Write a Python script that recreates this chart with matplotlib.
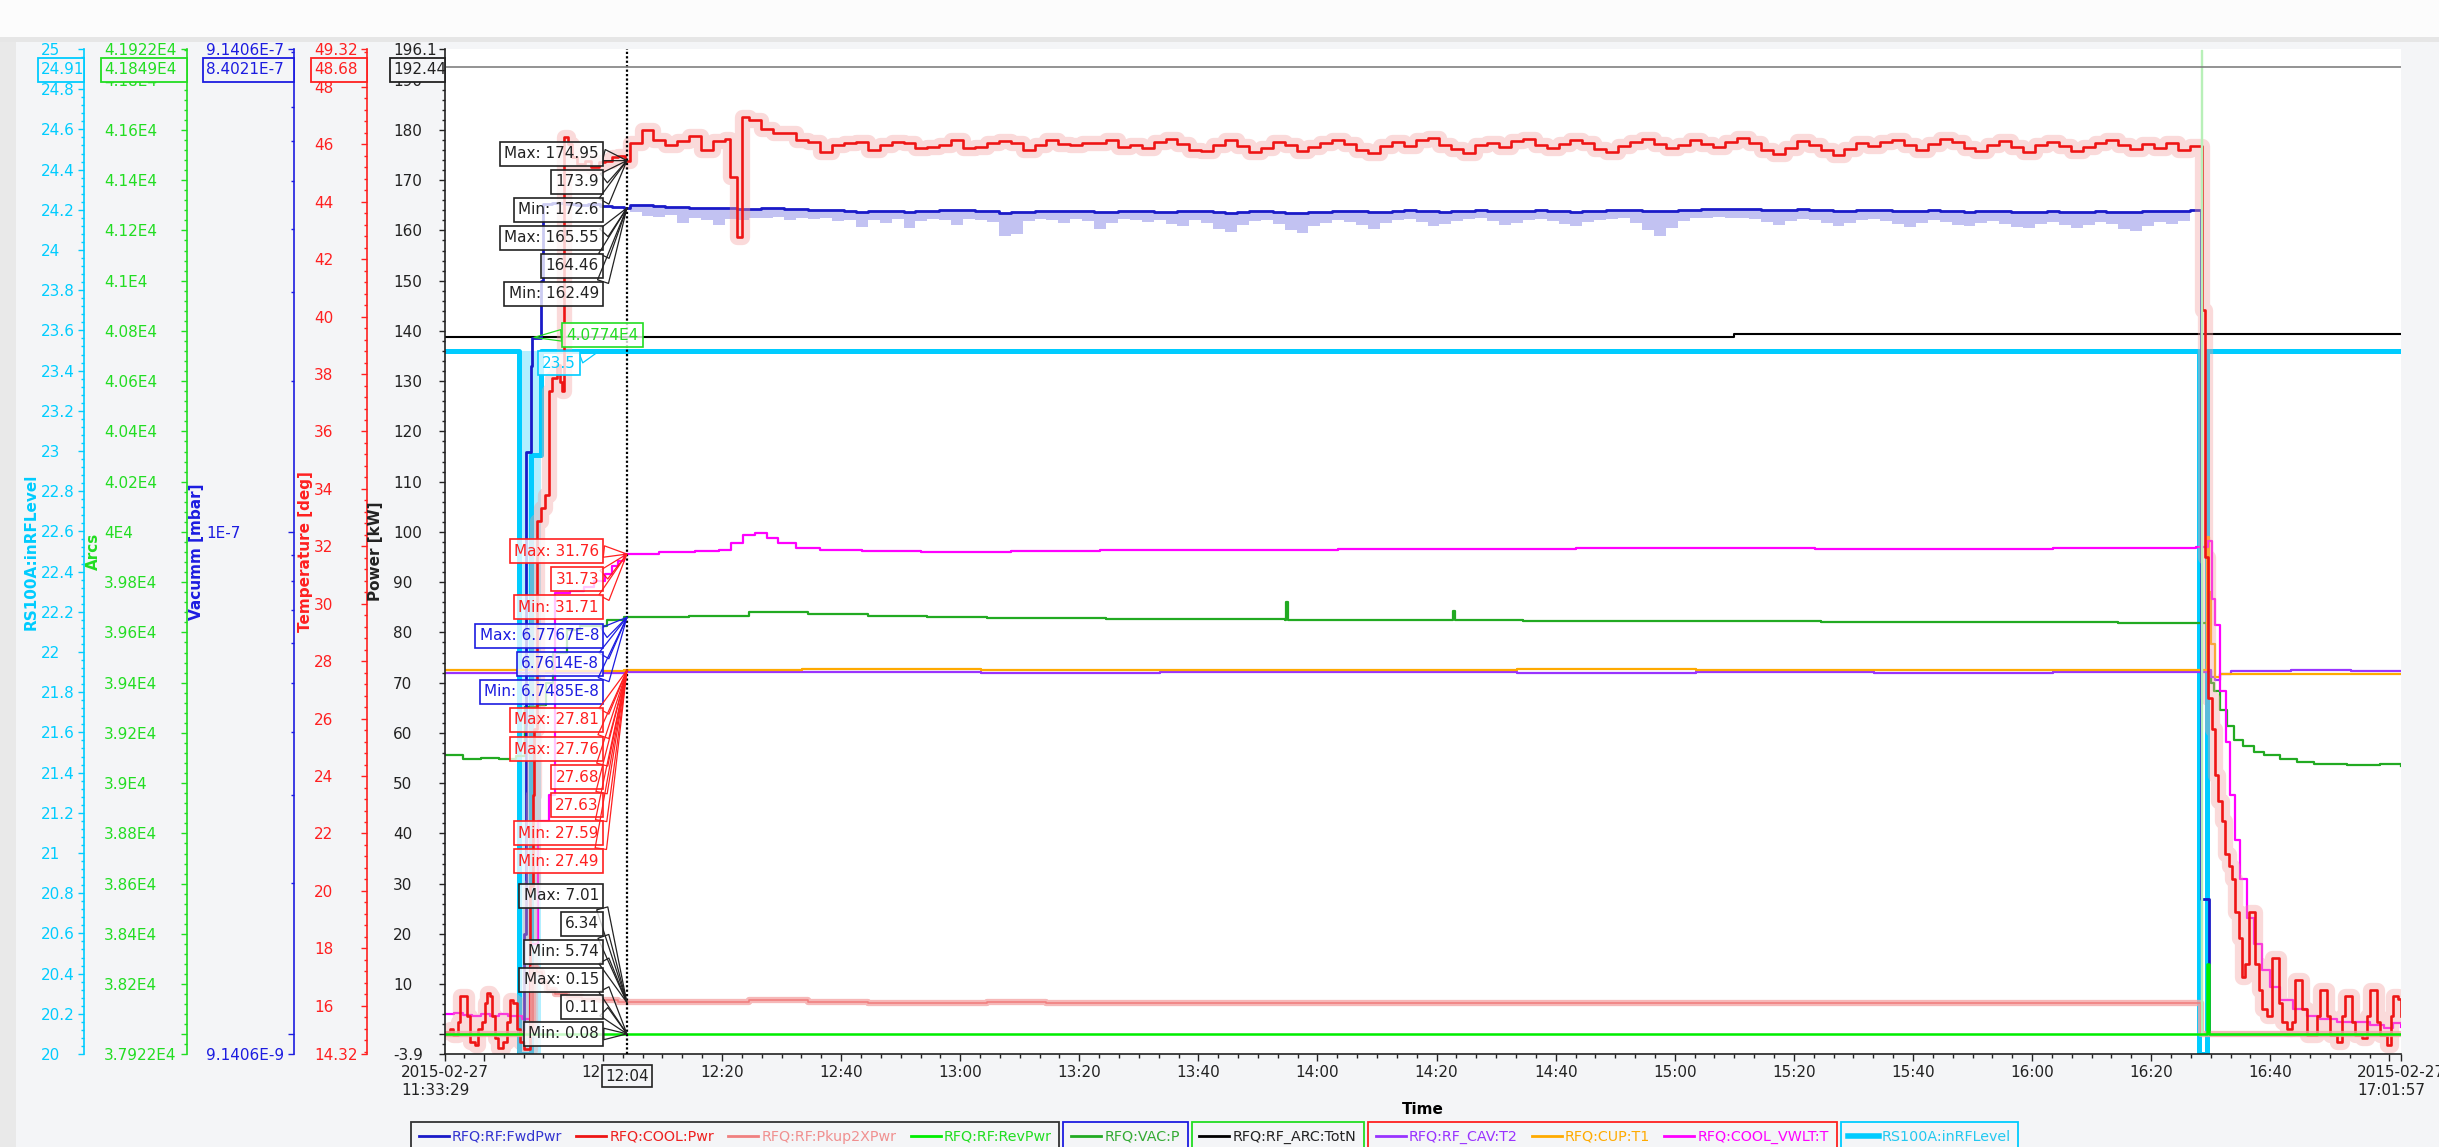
import numpy as np
import matplotlib
matplotlib.use("Agg")
import matplotlib.pyplot as plt
import matplotlib.dates as mdates
from matplotlib.ticker import FixedLocator, FixedFormatter
from matplotlib.lines import Line2D
from matplotlib.patches import Rectangle
from datetime import datetime, timedelta

# ---------------- data: time in minutes after 2015-02-27 11:33:29 ----------------
T_START = datetime(2015, 2, 27, 11, 33, 29)
T_END = datetime(2015, 2, 27, 17, 1, 57)
t_end = 328.467
t_cursor = 30.55

steady_t0, steady_dt = 31.0, 2.0      # sampling of the dense power records
slow_t0, slow_dt = 31.0, 10.0         # sampling of the slow records

# RFQ:COOL:Pwr [kW]
cool_pre = [(0, 0.5), (0.84, 1.1), (1.4, -0.2), (2.24, 2.4), (2.5, 7.6), (3.36, 7.6), (3.64, 3.7),
            (4.2, -1.5), (5.04, -2.1), (5.6, 1.1), (6.16, 2.4), (6.72, 6.3), (7.0, 8.2), (7.56, 7.6),
            (7.84, 3.7), (8.4, -0.8), (8.96, -2.8), (9.8, -1.5), (10.36, 2.4), (10.92, 6.9),
            (11.48, 6.3), (12.04, 1.1), (12.6, -1.5), (13.2, -3.0), (14.3, 29.6), (14.7, 47.7),
            (15.0, 60.7), (15.4, 102.1), (16.2, 104.7), (16.8, 107.3), (17.4, 128.0), (17.9, 130.6),
            (18.8, 133.2), (19.3, 129.9), (19.7, 128.0), (20.0, 178.5), (20.6, 177.2), (21.3, 174.6),
            (22.1, 173.3), (23.5, 173.9), (24.6, 172.7), (25.8, 173.6), (26.9, 173.9), (28.0, 174.6),
            (29.1, 174.9), (30.2, 173.9)]
cool_steady = [177.3, 180.0, 178.0, 177.0, 177.8, 178.8, 176.0, 177.8, 178.1, 170.7,
               182.0, 180.2, 179.4, 179.3, 178.0, 177.5, 175.7, 177.0, 177.3, 177.6,
               176.0, 177.0, 177.6, 177.3, 176.4, 176.5, 177.0, 178.0, 176.3, 176.6,
               177.3, 177.8, 177.3, 176.1, 177.0, 178.0, 177.2, 177.0, 177.3, 177.4,
               178.0, 176.5,
               177.0, 176.3, 177.5, 178.2, 177.1, 176.0, 175.8, 177.0, 177.9, 176.8,
               175.6, 176.4, 177.6, 176.9, 175.9, 176.5, 177.3, 178.0, 177.1, 176.0,
               175.4, 176.7, 177.5, 176.8, 177.9, 178.3, 177.0, 176.2, 175.5, 176.9,
               177.4, 176.6, 177.8, 178.1, 177.0, 176.4, 177.2, 178.0, 177.3, 176.2,
               175.6, 176.8, 177.6, 178.2, 177.1, 176.3, 177.0, 177.9, 177.2, 176.5,
               177.5, 178.4, 177.3, 176.1, 175.2, 176.4, 177.7, 177.0, 176.0, 175.0,
               176.2, 177.4, 176.8, 177.6, 178.0, 176.9, 176.1, 177.2, 178.1, 177.5,
               176.4, 175.8, 177.0, 177.8, 176.6, 175.7, 176.9, 177.6, 176.8, 175.9,
               176.5, 177.4, 178.0, 177.0, 176.2, 177.1, 176.4, 177.3, 176.0, 176.8]
cool_spike = [(47.9, 170.7), (49.1, 158.7), (49.9, 182.6)]
cool_post = [(295.0, 144.2), (295.6, 95.0), (296.0, 67.0), (296.7, 60.7), (297.3, 51.6), (297.8, 46.4),
             (298.4, 42.5), (298.95, 36.0), (299.5, 33.5), (300.1, 30.9), (300.6, 24.4), (301.2, 19.2),
             (301.8, 11.5), (302.3, 14.0), (302.9, 24.4), (304.0, 14.0), (304.6, 8.9), (305.1, 5.0),
             (306.0, 3.7), (306.8, 15.3), (307.9, 6.3), (308.5, 2.4), (309.3, 1.1), (310.2, 2.4),
             (310.7, 10.8), (311.8, 5.0), (312.7, -0.2), (314.4, 3.7), (314.9, 8.9), (316.0, 3.7),
             (316.6, -0.2), (317.7, -1.5), (318.6, 3.7), (319.1, 7.6), (320.2, 2.4), (320.8, -0.2),
             (321.9, -0.8), (322.8, 3.7), (323.3, 8.9), (324.4, 2.4), (325.0, -0.2), (326.1, -2.1),
             (326.8, 3.7), (327.2, 7.6), (328.0, 7.0), (328.4, 3.7)]

# RFQ:RF:FwdPwr [kW]
fwd_pre = [(0, 0.1), (13.3, 20.0), (13.6, 116.0), (14.4, 133.0), (14.6, 138.6), (16.2, 150.0),
           (16.5, 165.2), (18.0, 165.5), (20.0, 165.3), (22.0, 165.0), (24.0, 165.2), (26.0, 164.9),
           (28.0, 164.7), (30.0, 164.5)]
fwd_steady = [165.1, 165.1, 164.8, 164.6, 164.6, 164.4, 164.4, 164.4, 164.4, 164.2,
              164.3, 164.4, 164.4, 164.3, 164.2, 164.1, 164.1, 164.0, 163.9, 163.7,
              163.8, 163.9, 163.8, 163.6, 163.8, 163.9, 164.1, 164.1, 164.0, 163.9,
              163.8, 163.5, 163.7, 163.7, 163.8, 163.9, 163.9, 163.9, 163.8, 163.7,
              163.6, 163.9,
              163.8, 163.9, 163.7, 163.6, 163.8, 163.9, 163.8, 163.6, 163.5, 163.7,
              163.8, 163.9, 163.7, 163.5, 163.4, 163.6, 163.7, 163.8, 163.9, 163.8,
              163.6, 163.7, 163.9, 164.0, 163.9, 163.8, 163.7, 163.8, 163.9, 164.0,
              163.9, 163.8, 163.8, 163.9, 164.0, 163.9, 163.8, 163.7, 163.8, 163.9,
              164.0, 164.1, 164.0, 163.9, 163.8, 163.9, 164.0, 164.1, 164.2, 164.3,
              164.2, 164.3, 164.2, 164.1, 164.0, 164.1, 164.2, 164.1, 164.0, 163.9,
              163.9, 164.0, 164.1, 164.0, 163.9, 163.8, 163.9, 164.0, 163.9, 163.8,
              163.7, 163.8, 163.9, 163.8, 163.7, 163.6, 163.7, 163.8, 163.7, 163.6,
              163.7, 163.8, 163.7, 163.6, 163.7, 163.8, 163.9, 163.8, 163.9, 164.0]
fwd_min = [163.6, 162.8, 162.6, 163.0, 161.5, 162.5, 162.0, 161.1, 162.3, 162.0,
           162.5, 162.4, 162.6, 162.0, 162.5, 162.2, 162.4, 161.8, 162.0, 160.6,
           162.0, 161.5, 162.3, 160.5, 161.8, 162.2, 162.0, 161.0, 162.3, 162.1,
           161.7, 158.8, 159.2, 161.8, 162.2, 162.0, 161.5, 162.3, 161.9, 160.2,
           161.4, 162.2,
           162.0, 161.6, 162.1, 161.2, 160.8, 162.0, 161.5, 160.3, 159.6, 161.0,
           161.8, 162.0, 161.2, 160.0, 159.5, 160.8, 161.5, 162.0, 161.7, 161.0,
           160.2, 161.4, 162.1, 162.3, 161.6, 160.9, 161.2, 161.8, 162.2, 162.4,
           161.9, 161.0, 161.5, 162.0, 162.3, 161.8, 161.2, 160.8, 161.6, 162.1,
           162.3, 162.4, 161.5, 160.0, 158.9, 160.5, 161.8, 162.4, 162.5, 162.6,
           162.4, 162.5, 162.2, 161.6, 161.0, 161.9, 162.3, 162.0, 161.4, 160.8,
           161.5, 162.0, 162.3, 161.9, 161.2, 160.6, 161.4, 162.0, 161.6, 161.0,
           160.8, 161.5, 161.9, 161.3, 160.7, 160.4, 161.2, 161.7, 161.1, 160.5,
           161.0, 161.6, 161.2, 160.3, 159.8, 160.9, 161.6, 161.3, 161.8, 162.3]
fwd_post = [(294.9, 27.0), (296.2, 0.1), (t_end, 0.1)]

# RFQ:RF:Pkup2XPwr [kW]
pkup_pre = [(0, 0.05), (14.7, 13.2), (15.5, 12.5), (16.3, 10.5), (17.1, 8.8), (18.5, 8.0),
            (20.5, 7.4), (23.0, 7.0), (26.0, 6.8), (29.0, 6.5)]
pkup_slow = [6.35, 6.4, 6.9, 6.5, 6.3, 6.3, 6.35, 6.3, 6.3, 6.25, 6.3, 6.3, 6.3, 6.25,
             6.3, 6.3, 6.3, 6.25, 6.3, 6.3, 6.2, 6.25, 6.3, 6.25, 6.2, 6.25, 6.3]
pkup_post = [(294.9, 0.05), (t_end, 0.05)]

# RFQ:RF:RevPwr [kW]
rev = [(0, 0.11), (294.9, 0.11), (295.9, 14.0), (296.2, 0.11), (t_end, 0.11)]
rev_max = [(0, 0.15), (294.8, 196.0), (295.0, 0.15), (t_end, 0.15)]

# RFQ:VAC:P [mbar]
vac_pre = [(0, 3.59e-8), (3, 3.53e-8), (6, 3.55e-8), (9, 3.53e-8), (12, 3.58e-8), (13.4, 4.49e-8),
           (15.5, 4.53e-8), (17.0, 5.0e-8), (18.1, 5.74e-8), (20.5, 6.38e-8), (22.7, 6.50e-8),
           (27.2, 6.68e-8), (30.0, 6.76e-8)]
vac_slow = [6.77e-8, 6.80e-8, 6.92e-8, 6.86e-8, 6.80e-8, 6.77e-8, 6.75e-8, 6.74e-8, 6.72e-8,
            6.71e-8, 6.70e-8, 6.69e-8, 6.68e-8, 6.68e-8, 6.67e-8, 6.66e-8, 6.66e-8, 6.65e-8,
            6.65e-8, 6.64e-8, 6.63e-8, 6.63e-8, 6.62e-8, 6.62e-8, 6.61e-8, 6.60e-8, 6.59e-8]
vac_spikes = [(141.3, 7.25e-8), (141.6, 6.69e-8), (169.3, 6.95e-8), (169.6, 6.67e-8)]
vac_post = [(294.9, 6.58e-8), (295.9, 5.28e-8), (296.5, 5.01e-8), (297.0, 4.83e-8), (298.1, 4.43e-8),
            (299.2, 4.10e-8), (300.4, 3.86e-8), (302.0, 3.75e-8), (303.7, 3.64e-8), (305.4, 3.59e-8),
            (308.2, 3.53e-8), (311.0, 3.48e-8), (313.8, 3.45e-8), (319.4, 3.43e-8), (325.0, 3.45e-8),
            (328.4, 3.42e-8)]

# RFQ:RF_ARC:TotN
arcs = [(0, 40774), (216.5, 40788), (t_end, 40788)]

# temperatures [deg]
cav_t2 = [(0, 27.58), (15, 27.60), (30, 27.63), (60, 27.62), (90, 27.60), (120, 27.61), (150, 27.62),
          (180, 27.60), (210, 27.61), (240, 27.60), (270, 27.62), (294.9, 27.63), (295.9, 27.70),
          (296.5, 27.45), (297.2, 27.35), (298.0, 27.55), (300, 27.65), (310, 27.68), (320, 27.66),
          (t_end, 27.67)]
cup_t1 = [(0, 27.70), (15, 27.66), (30, 27.68), (60, 27.72), (90, 27.70), (120, 27.71), (150, 27.70),
          (180, 27.72), (210, 27.70), (240, 27.71), (270, 27.70), (294.9, 27.70), (295.9, 32.31),
          (296.2, 30.4), (296.6, 28.6), (297.2, 27.45), (298.0, 27.55), (305, 27.56), (315, 27.55),
          (t_end, 27.55)]
vwlt_t = [(0, 15.70), (1.5, 15.74), (3.0, 15.68), (4.5, 15.64), (6.0, 15.72), (7.5, 15.66), (9.0, 15.70),
          (10.5, 15.63), (12.0, 15.65), (13.0, 15.55), (14.3, 18.14), (15.7, 22.44), (17.4, 23.35),
          (18.5, 30.39), (21.0, 30.45), (23.4, 30.58), (25.0, 30.8), (26.9, 31.05), (28.0, 31.3),
          (29.1, 31.5), (30.0, 31.73), (36, 31.80), (42, 31.85), (46, 31.86), (48, 32.10), (50, 32.40),
          (52, 32.45), (54, 32.30), (56, 32.10), (59, 31.95), (63, 31.88), (70, 31.84), (80, 31.82),
          (95, 31.85), (110, 31.87), (130, 31.88), (150, 31.90), (170, 31.92), (190, 31.93), (210, 31.95),
          (230, 31.92), (250, 31.90), (270, 31.93), (285, 31.95), (294.0, 31.96), (296.0, 32.17),
          (296.7, 30.16), (297.3, 29.25), (298.1, 26.97), (299.0, 25.17), (299.8, 23.35), (300.6, 21.78),
          (301.5, 20.41), (302.6, 19.05), (303.7, 18.14), (305.1, 17.24), (306.5, 16.67), (308.2, 16.21),
          (310.4, 15.88), (312.7, 15.65), (314.9, 15.55), (317.7, 15.42), (320.5, 15.42), (323.3, 15.32),
          (325.6, 15.21), (327.2, 15.39), (t_end, 15.26)]

# RS100A:inRFLevel
rf_level = [(0, 23.5), (12.5, 20.0), (14.5, 22.98), (16.2, 23.5), (294.6, 20.0), (295.9, 23.5), (t_end, 23.5)]
rf_level_band = [(12.5, 20.0, 23.5), (16.2, 20.0, 23.5)]

# cursor read-outs (text, value at cursor)
read_power = [("Max: 174.95", 173.9), ("173.9", 173.9), ("Min: 172.6", 173.9),
              ("Max: 165.55", 164.46), ("164.46", 164.46), ("Min: 162.49", 164.46)]
read_vwlt = [("Max: 31.76", 31.73), ("31.73", 31.73), ("Min: 31.71", 31.73)]
read_vac = [("Max: 6.7767E-8", 6.7614e-8), ("6.7614E-8", 6.7614e-8), ("Min: 6.7485E-8", 6.7614e-8)]
read_temp = [("Max: 27.81", 27.68), ("Max: 27.76", 27.68), ("27.68", 27.68), ("27.63", 27.68),
             ("Min: 27.59", 27.68), ("Min: 27.49", 27.68)]
read_low = [("Max: 7.01", 6.34), ("6.34", 6.34), ("Min: 5.74", 6.34),
            ("Max: 0.15", 0.11), ("0.11", 0.11), ("Min: 0.08", 0.11)]
top_readouts = ["24.91", "4.1849E4", "8.4021E-7", "48.68", "192.44"]
cursor_power = 192.44

# ---------------- helpers ----------------
x0 = mdates.date2num(T_START)


def tx(m):
    return x0 + np.asarray(m, float) / 1440.0


def grid(values, t0, dt):
    return [(t0 + i * dt, v) for i, v in enumerate(values)]


def merge(*parts):
    pts = sorted([p for part in parts for p in part], key=lambda p: p[0])
    t = np.array([p[0] for p in pts])
    v = np.array([p[1] for p in pts])
    return tx(t), v


W, H, DPI = 2439, 1147, 100
BG = "#f4f5f7"
CYAN, GREEN, BLUE, RED, BLACK = "#00ccff", "#22dd22", "#1c1ce0", "#ff2020", "#222222"

fig = plt.figure(figsize=(W / DPI, H / DPI), dpi=DPI)
fig.patch.set_facecolor(BG)
fig.add_artist(Rectangle((0, 1 - 38 / H), 1, 38 / H, transform=fig.transFigure, fc="#fcfcfc", ec="none", zorder=0))
fig.add_artist(Rectangle((0, 1 - 42 / H), 1, 5 / H, transform=fig.transFigure, fc="#e6e6e6", ec="none", zorder=0))
fig.add_artist(Rectangle((0, 0), 16 / W, 1 - 42 / H, transform=fig.transFigure, fc="#e9e9e9", ec="none", zorder=0))

L, R, TOP, BOT = 445, 2401, 49, 1054
ax = fig.add_axes([L / W, 1 - BOT / H, (R - L) / W, (BOT - TOP) / H])
ax_cy = ax.twinx()
ax_arc = ax.twinx()
ax_vac = ax.twinx()
ax_tmp = ax.twinx()
for z, a in enumerate([ax_cy, ax_arc, ax_vac, ax_tmp, ax], start=1):
    a.set_zorder(z)
    a.patch.set_visible(False)
ax_cy.patch.set_visible(True)
ax_cy.patch.set_facecolor("white")

# ---------------- series ----------------
st = "steps-post"
bt = tx([b[0] for b in rf_level_band])
ax_cy.fill_between(bt, [b[1] for b in rf_level_band], [b[2] for b in rf_level_band],
                   step="post", color=CYAN, alpha=0.3, lw=0)
x, v = merge(rf_level)
ax_cy.plot(x, v, color=CYAN, lw=3.6, drawstyle=st)

x, v = merge(arcs)
ax_arc.plot(x, v, color="black", lw=1.5, drawstyle=st)

x, v = merge(vac_pre, grid(vac_slow, slow_t0, slow_dt), vac_spikes, vac_post)
ax_vac.plot(x, v, color="#22aa22", lw=1.6, drawstyle=st)

x, v = merge(cav_t2)
ax_tmp.plot(x, v, color="#9933ff", lw=1.6, drawstyle=st)
x, v = merge(cup_t1)
ax_tmp.plot(x, v, color="#ffaa00", lw=1.6, drawstyle=st)
x, v = merge(vwlt_t)
ax_tmp.plot(x, v, color="#ff00ff", lw=1.6, drawstyle=st)

# power group
xs = tx(steady_t0 + steady_dt * np.arange(len(fwd_steady)))
ax.fill_between(xs, fwd_min, fwd_steady, step="post", color="#9a9aea", alpha=0.6, lw=0)
x, v = merge(fwd_pre, grid(fwd_steady, steady_t0, steady_dt), fwd_post)
ax.plot(x, v, color="#1a1ac8", lw=2.0, drawstyle=st)

x, v = merge(cool_pre, grid(cool_steady, steady_t0, steady_dt), cool_spike, cool_post)
ax.plot(x, v, color="#f4a0a0", lw=11, alpha=0.38, drawstyle=st)
ax.plot(x, v, color="#ee1515", lw=1.9, drawstyle=st)

x, v = merge(pkup_pre, grid(pkup_slow, slow_t0, slow_dt), pkup_post)
ax.plot(x, v, color="#f4a6a6", lw=4.5, alpha=0.8, drawstyle=st)
ax.plot(x, v, color="#f08080", lw=1.2, drawstyle=st)

x, v = merge(rev_max)
ax.plot(x, v, color="#b8f0b8", lw=1.0, drawstyle=st)
x, v = merge(rev)
ax.plot(x, v, color="#00ee00", lw=1.8, drawstyle=st)

# ---------------- axes ----------------
ax.set_xlim(tx(0), tx(t_end))
ax.set_ylim(-3.9, 196.1)
ax_tmp.set_ylim(14.32, 49.32)
ax_vac.set_yscale("log")
ax_vac.set_ylim(9.1406e-9, 9.1406e-7)
ax_arc.set_ylim(37922, 41922)
ax_cy.set_ylim(20, 25)

pw_major = [-3.9] + list(range(0, 200, 10)) + [196.1]
pw_lab = ["-3.9", ""] + [str(v) for v in range(10, 200, 10)] + ["196.1"]
ax.yaxis.set_major_locator(FixedLocator(pw_major))
ax.yaxis.set_major_formatter(FixedFormatter(pw_lab))
ax.yaxis.set_minor_locator(FixedLocator(np.arange(-2, 196, 2)))

tp_major = [14.32] + list(range(16, 49, 2)) + [49.32]
tp_lab = ["14.32"] + [str(v) for v in range(16, 49, 2)] + ["49.32"]
ax_tmp.yaxis.set_major_locator(FixedLocator(tp_major))
ax_tmp.yaxis.set_major_formatter(FixedFormatter(tp_lab))
ax_tmp.yaxis.set_minor_locator(FixedLocator(np.arange(14.4, 49.3, 0.4)))

ax_vac.yaxis.set_major_locator(FixedLocator([9.1406e-9, 1e-8, 1e-7, 9.1406e-7]))
ax_vac.yaxis.set_major_formatter(FixedFormatter(["9.1406E-9", "", "1E-7", "9.1406E-7"]))
ax_vac.yaxis.set_minor_locator(FixedLocator([k * 1e-8 for k in range(2, 10)] + [k * 1e-7 for k in range(2, 10)]))
ax_vac.yaxis.set_minor_formatter(FixedFormatter([]))

ar_major = [37922] + list(range(38000, 41900, 200)) + [41922]
ar_lab = ["3.7922E4", ""] + [f"{v / 1e4:g}E4" for v in range(38200, 41900, 200)] + ["4.1922E4"]
ax_arc.yaxis.set_major_locator(FixedLocator(ar_major))
ax_arc.yaxis.set_major_formatter(FixedFormatter(ar_lab))
ax_arc.yaxis.set_minor_locator(FixedLocator(np.arange(37960, 41922, 40)))

cy_major = np.round(np.arange(20, 25.01, 0.2), 1)
ax_cy.yaxis.set_major_locator(FixedLocator(cy_major))
ax_cy.yaxis.set_major_formatter(FixedFormatter([f"{v:g}" for v in cy_major]))
ax_cy.yaxis.set_minor_locator(FixedLocator(np.arange(20.04, 25, 0.04)))

specs = [(ax_cy, CYAN, 84, 41, "RS100A:inRFLevel", 39),
         (ax_arc, GREEN, 187, 104, "Arcs", 101),
         (ax_vac, BLUE, 294, 206, "Vacumm [mbar]", 204),
         (ax_tmp, RED, 367, 314, "Temperature [deg]", 313),
         (ax, BLACK, 445, 393, "Power [kW]", 383)]
for a, c, spx, lpx, lab, lab_px in specs:
    for s in a.spines.values():
        s.set_visible(False)
    a.spines["left"].set_visible(True)
    a.spines["left"].set_position(("axes", (spx - L) / (R - L)))
    a.spines["left"].set_color(c)
    a.spines["left"].set_linewidth(1.2)
    a.yaxis.set_ticks_position("left")
    a.yaxis.set_label_position("left")
    pad = (spx - lpx) / 1.389 - 4
    a.tick_params(axis="y", which="major", colors=c, labelcolor=c, labelsize=11, length=4, width=1, pad=pad)
    a.tick_params(axis="y", which="minor", colors=c, length=2.3, width=1)
    a.set_ylabel(lab, color=c, fontsize=11, fontweight="bold")
    a.yaxis.set_label_coords((lab_px - L) / (R - L), 0.5)
    plt.setp(a.get_yticklabels(), ha="left")

ax.spines["bottom"].set_visible(True)
ax.spines["bottom"].set_color(BLACK)
ax.spines["bottom"].set_linewidth(1.2)

major_dt = [T_START] + [datetime(2015, 2, 27, 11, 40) + timedelta(minutes=20 * k) for k in range(17)] + [T_END]
x_lab = ["2015-02-27\n11:33:29", ""] + [d.strftime("%H:%M") for d in major_dt[2:-2]] + ["", "2015-02-27\n17:01:57"]
ax.xaxis.set_major_locator(FixedLocator(mdates.date2num(major_dt)))
ax.xaxis.set_major_formatter(FixedFormatter(x_lab))
ax.xaxis.set_minor_locator(FixedLocator(mdates.date2num(
    [datetime(2015, 2, 27, 11, 33, 20) + timedelta(seconds=200 * k) for k in range(100)])))
ax.tick_params(axis="x", which="major", colors=BLACK, labelsize=11, length=5, width=1, pad=3)
ax.tick_params(axis="x", which="minor", colors=BLACK, length=3, width=1)
plt.setp(ax.get_xticklabels(), multialignment="left")
ax.set_xlabel("Time", fontsize=11, fontweight="bold")
ax.xaxis.set_label_coords(0.5, -0.048)

# ---------------- cursor ----------------
xc = tx(t_cursor)
ax.axvline(xc, color="black", lw=1.6, ls=(0, (1, 1)), zorder=6)
ax.axhline(cursor_power, color="#808080", lw=1.2, zorder=6)
ax.text(xc, -0.022, "12:04", transform=ax.get_xaxis_transform(), ha="center", va="center",
        fontsize=11, color=BLACK, zorder=12, clip_on=False,
        bbox=dict(boxstyle="square,pad=0.22", fc=BG, ec=BLACK, lw=1.2))

for (a, c, spx, lpx, lab, lab_px), txt in zip(specs, top_readouts):
    fig.add_artist(Rectangle(((lpx - 3) / W, 1 - 82 / H), (spx - lpx + 3) / W, 24 / H,
                             transform=fig.transFigure, fc=BG, ec=c, lw=1.3, zorder=10))
    fig.text(lpx / W, 1 - 70 / H, txt, ha="left", va="center", color=c, fontsize=11, zorder=11)


def callout(text, color, target_ax, value, ypx, xpx=599, ha="right", relpos=(1, 0.5), t=t_cursor):
    ax.annotate(text, xy=(tx(t), value), xycoords=target_ax.transData,
                xytext=(xpx, H - ypx), textcoords="figure pixels", ha=ha, va="center",
                fontsize=11, color=color, zorder=20, annotation_clip=False,
                bbox=dict(boxstyle="square,pad=0.28", fc=(1, 1, 1, 0.78), ec=color, lw=1.2),
                arrowprops=dict(arrowstyle="wedge,tail_width=0.75,shrink_factor=0.5",
                                fc=(1, 1, 1, 0), ec=color, lw=0.9, relpos=relpos,
                                shrinkA=0, shrinkB=0))


for (txt, val), y in zip(read_power, [154, 182, 210, 238, 266, 294]):
    callout(txt, BLACK, ax, val, y)
for (txt, val), y in zip(read_vwlt, [551, 579, 607]):
    callout(txt, RED, ax_tmp, val, y)
for (txt, val), y in zip(read_vac, [636, 664, 692]):
    callout(txt, BLUE, ax_vac, val, y)
for (txt, val), y in zip(read_temp, [720, 749, 777, 805, 833, 861]):
    callout(txt, RED, ax_tmp, val, y)
for (txt, val), y in zip(read_low, [896, 924, 952, 980, 1007, 1034]):
    callout(txt, BLACK, ax, val, y)
callout("4.0774E4", GREEN, ax_arc, 40774, 335, xpx=566, ha="left", relpos=(0, 0.5), t=14.95)
callout("23.5", CYAN, ax_cy, 23.5, 363, xpx=542, ha="left", relpos=(1, 0.75), t=26.0)

# ---------------- legend groups ----------------
groups = [("#333333", [("RFQ:RF:FwdPwr", "#1a1ac8", "#3434d0"), ("RFQ:COOL:Pwr", "#ee1515", "#ee2020"),
                       ("RFQ:RF:Pkup2XPwr", "#f08080", "#f09090"), ("RFQ:RF:RevPwr", "#00ee00", "#22dd22")]),
          (BLUE, [("RFQ:VAC:P", "#22aa22", "#33aa33")]),
          (GREEN, [("RFQ:RF_ARC:TotN", "black", "#222222")]),
          (RED, [("RFQ:RF_CAV:T2", "#9933ff", "#9933ff"), ("RFQ:CUP:T1", "#ffaa00", "#ffaa00"),
                 ("RFQ:COOL_VWLT:T", "#ff00ff", "#ff00ff")]),
          (CYAN, [("RS100A:inRFLevel", CYAN, "#22c8f0")])]
lx = 411
for edge, items in groups:
    handles = [Line2D([], [], color=lc, lw=4 if lc == CYAN else 2) for _, lc, _ in items]
    leg = fig.legend(handles, [n for n, _, _ in items], loc="upper left", bbox_to_anchor=(lx / W, 1 - 1122 / H),
                     ncol=len(items), fontsize=10.3, frameon=True, fancybox=False, edgecolor=edge,
                     facecolor=BG, framealpha=1, borderaxespad=0, borderpad=0.55, handlelength=2.1,
                     handletextpad=0.2, columnspacing=1.0)
    leg.get_frame().set_linewidth(1.3)
    for t_, (_, _, tc) in zip(leg.get_texts(), items):
        t_.set_color(tc)
    fig.canvas.draw()
    lx = leg.get_window_extent().x1 + 4

fig.savefig("out.png", dpi=DPI, facecolor=BG)
